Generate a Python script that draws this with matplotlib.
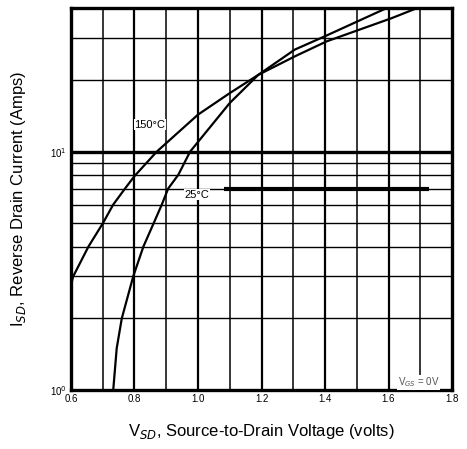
import matplotlib.pyplot as plt
import numpy as np

plt.rcParams['font.family'] = ['Liberation Sans', 'DejaVu Sans']

# Curve readings (V, A)
v_150 = [0.60, 0.607, 0.655, 0.70, 0.733, 0.77, 0.80, 0.87, 1.00, 1.10, 1.19, 1.305, 1.405, 1.61, 1.69]
i_150 = [2.76, 3.0, 4.0, 5.0, 6.0, 7.0, 7.9, 10.0, 14.3, 17.6, 21.0, 25.1, 29.0, 36.3, 40.0]

v_25 = [0.733, 0.744, 0.76, 0.796, 0.828, 0.86, 0.886, 0.906, 0.938, 0.975, 1.10, 1.19, 1.305, 1.405, 1.594]
i_25 = [1.0, 1.5, 2.0, 3.0, 4.0, 5.0, 6.0, 7.0, 8.0, 10.0, 16.0, 21.0, 26.8, 30.7, 40.0]

x_ticks = [0.6, 0.8, 1.0, 1.2, 1.4, 1.6, 1.8]
x_grid = [0.7, 0.8, 0.9, 1.0, 1.1, 1.2, 1.3, 1.4, 1.5, 1.6, 1.7]
y_grid = [2, 3, 4, 5, 6, 7, 8, 9, 20, 30]

fig = plt.figure(figsize=(4.67, 4.49), dpi=100)
ax = fig.add_axes([0.152, 0.131, 0.816, 0.851])
ax.set_xscale('linear')
ax.set_yscale('log')
ax.set_xlim(0.6, 1.8)
ax.set_ylim(1, 40)

# grid
for v in x_grid:
    lw = 1.6 if round(v * 10) % 2 == 0 else 1.1
    ax.axvline(v, color='black', lw=lw, zorder=1)
for i in y_grid:
    ax.axhline(i, color='black', lw=1.0, zorder=1)
ax.axhline(10, color='black', lw=2.4, zorder=1)
ax.plot([1.083, 1.728], [7, 7], color='black', lw=3, solid_capstyle='butt', zorder=2)

# curves
ax.plot(v_150, i_150, color='black', lw=1.6, zorder=3)
ax.plot(v_25, i_25, color='black', lw=1.6, zorder=3)

ax.text(0.80, 13.0, '150°C', fontsize=8, ha='left', va='center',
        bbox=dict(facecolor='white', edgecolor='none', pad=0.5), zorder=4)
ax.text(0.997, 6.6, '25°C', fontsize=8, ha='center', va='center',
        bbox=dict(facecolor='white', edgecolor='none', pad=0.5), zorder=4)
ax.text(1.76, 1.08, r'V$_{GS}$ = 0V', fontsize=7, ha='right', va='center', color='#555555',
        bbox=dict(facecolor='white', edgecolor='none', pad=0.5), zorder=4)

ax.set_xticks(x_ticks)
ax.set_xticklabels([f'{t:.1f}' for t in x_ticks], fontsize=7)
ax.set_yticks([1, 10])
ax.set_yticklabels([r'10$^0$', r'10$^1$'], fontsize=7)
ax.minorticks_off()
ax.tick_params(length=0, pad=3)

for s in ax.spines.values():
    s.set_linewidth(2.4)

ax.set_xlabel(r'V$_{SD}$, Source-to-Drain Voltage (volts)', fontsize=12, labelpad=13)
ax.set_ylabel(r'I$_{SD}$, Reverse Drain Current (Amps)', fontsize=12, labelpad=16)

fig.savefig('out.png', dpi=100)
